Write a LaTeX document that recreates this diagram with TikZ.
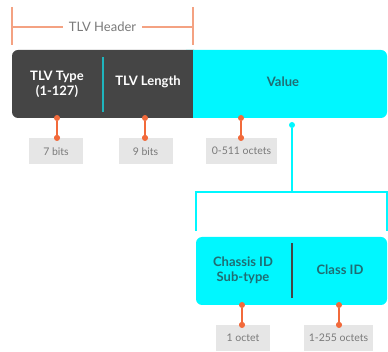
\documentclass[tikz,border=0pt]{standalone}
\usepackage{fontspec}
\setmainfont{Lato}
\definecolor{darkbox}{HTML}{454545}
\definecolor{cyanbox}{HTML}{00F7FF}
\definecolor{orng}{HTML}{F26A3B}
\definecolor{lorng}{HTML}{F4A282}
\definecolor{lblbg}{HTML}{E6E6E6}
\definecolor{lbltxt}{HTML}{7A7A7A}
\definecolor{tealtxt}{HTML}{1F6D73}
\definecolor{tealdiv}{HTML}{1FB5BE}
\tikzset{
  lbl/.style={fill=lblbg, text=lbltxt, font=\fontsize{10.5}{12}\selectfont, minimum width=54pt, minimum height=26pt, inner sep=0pt, anchor=north},
  darktxt/.style={text=white, font=\bfseries\fontsize{13}{15}\selectfont, align=center},
  cyantxt/.style={text=tealtxt, font=\bfseries\fontsize{13}{15}\selectfont, align=center},
  odot/.style={circle, fill=orng, inner sep=0pt, minimum size=6pt},
  cdot/.style={circle, fill=cyanbox, inner sep=0pt, minimum size=6pt},
  oline/.style={draw=orng, line width=1.4pt},
  cline/.style={draw=cyanbox, line width=1.4pt},
  hline/.style={draw=lorng, line width=1.2pt},
}
\begin{document}
\begin{tikzpicture}[x=1pt,y=-1pt]
\useasboundingbox (0,0) rectangle (388,352);
% header bracket
\coordinate (hl1) at (12,7); \coordinate (hl2) at (12,45);
\coordinate (hr1) at (193,7); \coordinate (hr2) at (193,45);
\coordinate (hlm) at (12,27); \coordinate (hrm) at (193,27);
\draw[hline] (hl1) -- (hl2);
\draw[hline] (hr1) -- (hr2);
\node[text=lbltxt, font=\fontsize{13}{15}\selectfont, fill=white, inner xsep=6pt] (hdr) at (102.5,27) {TLV Header};
\draw[hline] (hlm) -- (hdr.west);
\draw[hline] (hdr.east) -- (hrm);
% top boxes
\fill[cyanbox, rounded corners=6pt] (180,50) rectangle (387,118);
\fill[darkbox, rounded corners=6pt] (12,50) rectangle (200,118);
\fill[darkbox] (185,50) rectangle (193,118);
\fill[cyanbox] (193,50) rectangle (205,118);
\draw[tealdiv, line width=1.2pt] (103,57) -- (103,112);
\node[darktxt] (tt) at (57,84) {TLV Type\\(1-127)};
\node[darktxt] (tl) at (148,82) {TLV Length};
\node[cyantxt] (val) at (283,82) {Value};
% top labels
\node[odot] (d1a) at (57,118) {}; \node[odot] (d1b) at (57,138) {};
\node[odot] (d2a) at (145,118) {}; \node[odot] (d2b) at (145,138) {};
\node[odot] (d3a) at (241,118) {}; \node[odot] (d3b) at (241,138) {};
\node[lbl] (l1) at (56,138) {7 bits};
\node[lbl] (l2) at (145.5,138) {9 bits};
\node[lbl, minimum width=71pt] (l3) at (241.5,138) {0-511 octets};
\draw[oline] (d1a) -- (d1b);
\draw[oline] (d2a) -- (d2b);
\draw[oline] (d3a) -- (d3b);
\node[odot] at (57,138) {}; \node[odot] at (145,138) {}; \node[odot] at (241,138) {};
% cyan tree
\node[cdot] (cd) at (292,125) {};
\coordinate (cm) at (292,192);
\coordinate (cl) at (196,192); \coordinate (cr) at (387,192);
\coordinate (cl2) at (196,231); \coordinate (cr2) at (387,231);
\draw[cline] (cd) -- (cm);
\draw[cline] (cl2) -- (cl) -- (cr) -- (cr2);
% lower box
\fill[cyanbox, rounded corners=6pt] (196,237) rectangle (387,305);
\draw[darkbox, line width=1.2pt] (292,243) -- (292,298);
\node[cyantxt] (cs) at (243,270) {Chassis ID\\Sub-type};
\node[cyantxt] (ci) at (340,270) {Class ID};
\node[odot] (d4a) at (242,305) {}; \node[odot] (d4b) at (242,325) {};
\node[odot] (d5a) at (339,305) {}; \node[odot] (d5b) at (339,325) {};
\node[lbl] (l4) at (243,325) {1 octet};
\node[lbl, minimum width=69pt] (l5) at (338.5,325) {1-255 octets};
\draw[oline] (d4a) -- (d4b);
\draw[oline] (d5a) -- (d5b);
\node[odot] at (242,325) {}; \node[odot] at (339,325) {};
\end{tikzpicture}
\end{document}
